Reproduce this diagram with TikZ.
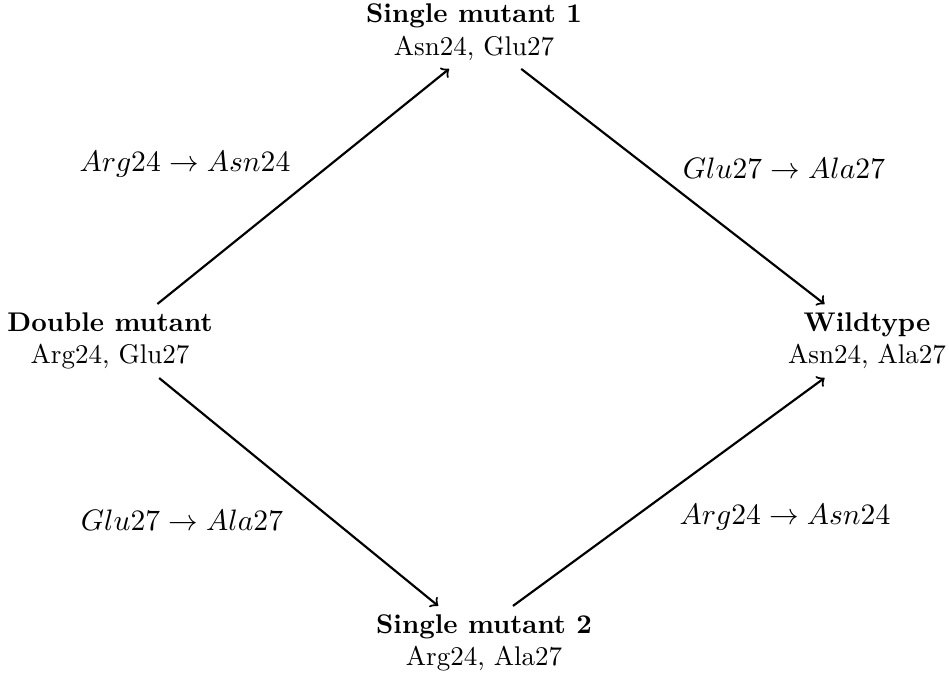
\documentclass[tikz,border=0pt]{standalone}
\begin{document}
\begin{tikzpicture}[x=0.37pt,y=-0.37pt,
  state/.style={align=center, inner sep=3pt},
  lbl/.style={inner sep=0pt, font=\fontsize{10.9pt}{13pt}\selectfont},
  arr/.style={->, thick}]
\path[use as bounding box] (0,0) rectangle (949,676);
\node[state] (dm)  at (110,341) {\textbf{Double mutant}\\Arg24, Glu27};
\node[state] (sm1) at (474,32)  {\textbf{Single mutant 1}\\Asn24, Glu27};
\node[state] (sm2) at (484,643) {\textbf{Single mutant 2}\\Arg24, Ala27};
\node[state] (wt)  at (867,341) {\textbf{Wildtype}\\Asn24, Ala27};
\draw[arr] (dm.38) -- (sm1.-124);
\draw[arr] (sm1.-38) -- (wt.139);
\draw[arr] (dm.-37) -- (sm2.141);
\draw[arr] (sm2.52) -- (wt.-139);
\node[lbl] (l1) at (185,164) {$Arg24 \rightarrow Asn24$};
\node[lbl] (l2) at (784,168) {$Glu27 \rightarrow Ala27$};
\node[lbl] (l3) at (182,520) {$Glu27 \rightarrow Ala27$};
\node[lbl] (l4) at (785,517) {$Arg24 \rightarrow Asn24$};
\end{tikzpicture}
\end{document}
